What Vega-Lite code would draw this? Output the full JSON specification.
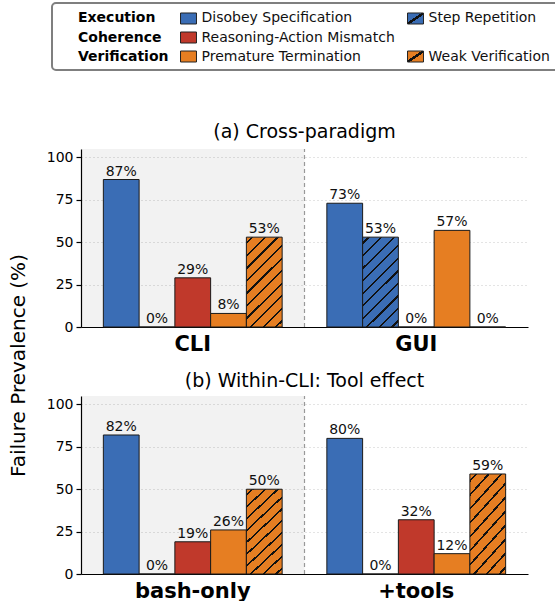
{
  "$schema": "https://vega.github.io/schema/vega-lite/v6.json",
  "padding": {"left": 8, "top": 2, "right": 0, "bottom": 0},
  "config": {
    "font": "DejaVu Sans",
    "view": {"stroke": null},
    "axis": {"labelColor": "#000", "domainColor": "#000", "tickColor": "#000", "labelFont": "DejaVu Sans", "titleFont": "DejaVu Sans"},
    "axisX": {"title": null, "labelAngle": 0, "labelFontSize": 21, "labelFontWeight": "bold", "ticks": false, "labelPadding": 6, "domainWidth": 1.2, "bandPosition": 0.5}
  },
  "datasets": {
    "bars": [
      {"panel": "a", "group": "CLI", "category": "Disobey Specification", "value": 87, "label": "87%"},
      {"panel": "a", "group": "CLI", "category": "Step Repetition", "value": 0, "label": "0%"},
      {"panel": "a", "group": "CLI", "category": "Reasoning-Action Mismatch", "value": 29, "label": "29%"},
      {"panel": "a", "group": "CLI", "category": "Premature Termination", "value": 8, "label": "8%"},
      {"panel": "a", "group": "CLI", "category": "Weak Verification", "value": 53, "label": "53%"},
      {"panel": "a", "group": "GUI", "category": "Disobey Specification", "value": 73, "label": "73%"},
      {"panel": "a", "group": "GUI", "category": "Step Repetition", "value": 53, "label": "53%"},
      {"panel": "a", "group": "GUI", "category": "Reasoning-Action Mismatch", "value": 0, "label": "0%"},
      {"panel": "a", "group": "GUI", "category": "Premature Termination", "value": 57, "label": "57%"},
      {"panel": "a", "group": "GUI", "category": "Weak Verification", "value": 0, "label": "0%"},
      {"panel": "b", "group": "bash-only", "category": "Disobey Specification", "value": 82, "label": "82%"},
      {"panel": "b", "group": "bash-only", "category": "Step Repetition", "value": 0, "label": "0%"},
      {"panel": "b", "group": "bash-only", "category": "Reasoning-Action Mismatch", "value": 19, "label": "19%"},
      {"panel": "b", "group": "bash-only", "category": "Premature Termination", "value": 26, "label": "26%"},
      {"panel": "b", "group": "bash-only", "category": "Weak Verification", "value": 50, "label": "50%"},
      {"panel": "b", "group": "+tools", "category": "Disobey Specification", "value": 80, "label": "80%"},
      {"panel": "b", "group": "+tools", "category": "Step Repetition", "value": 0, "label": "0%"},
      {"panel": "b", "group": "+tools", "category": "Reasoning-Action Mismatch", "value": 32, "label": "32%"},
      {"panel": "b", "group": "+tools", "category": "Premature Termination", "value": 12, "label": "12%"},
      {"panel": "b", "group": "+tools", "category": "Weak Verification", "value": 59, "label": "59%"}
    ],
    "legendItems": [
      {"row": "Execution", "col": 1, "category": "Disobey Specification"},
      {"row": "Execution", "col": 2, "category": "Step Repetition"},
      {"row": "Coherence", "col": 1, "category": "Reasoning-Action Mismatch"},
      {"row": "Verification", "col": 1, "category": "Premature Termination"},
      {"row": "Verification", "col": 2, "category": "Weak Verification"}
    ],
    "legendHeads": [
      {"row": "Execution", "col": 0},
      {"row": "Coherence", "col": 0},
      {"row": "Verification", "col": 0}
    ]
  },
  "spacing": 52,
  "vconcat": [
    {
      "width": 447,
      "height": 67,
      "resolve": {"scale": {"y": "independent"}},
      "layer": [
        {
          "data": {"values": [{"box": "legend"}]},
          "mark": {"type": "rect", "fill": "#fff", "fillOpacity": 0, "stroke": "#7f7f7f", "strokeWidth": 2, "cornerRadius": 4, "clip": false},
          "encoding": {
            "x": {"datum": -1, "type": "quantitative", "scale": {"domain": [-1, 0, 1, 2, 3], "range": [-29, -3, 107.5, 334.5, 480], "nice": false, "zero": false}, "axis": null},
            "x2": {"datum": 3},
            "y": {"datum": 0, "type": "quantitative", "scale": {"domain": [0, 1], "nice": false, "zero": false}, "axis": null},
            "y2": {"datum": 1}
          }
        },
        {
          "encoding": {
            "y": {"field": "row", "type": "nominal", "scale": {"type": "band", "domain": ["Execution", "Coherence", "Verification"], "paddingInner": 0, "paddingOuter": 0.263, "range": [1, 68]}, "axis": null},
            "x": {"field": "col", "type": "quantitative", "axis": null}
          },
          "layer": [
            {
              "data": {"name": "legendHeads"},
              "mark": {"type": "text", "align": "left", "baseline": "middle", "fontWeight": "bold", "fontSize": 14, "color": "#000"},
              "encoding": {"text": {"field": "row"}}
            },
            {
              "data": {"name": "legendItems"},
              "mark": {"type": "point", "shape": "M-1.45,-1H1.45V1H-1.45Z", "size": 121, "filled": true, "opacity": 1, "stroke": "#222", "strokeWidth": 1},
              "encoding": {
                "fill": {
                  "condition": [
                    {"test": "datum.category === 'Step Repetition'", "value": {"gradient": "linear", "x1": 0, "y1": 0, "x2": 1, "y2": 1, "stops": [{"offset": 0, "color": "#3a6db5"}, {"offset": 0.43, "color": "#3a6db5"}, {"offset": 0.43, "color": "#111"}, {"offset": 0.57, "color": "#111"}, {"offset": 0.57, "color": "#3a6db5"}, {"offset": 1, "color": "#3a6db5"}]}},
                    {"test": "datum.category === 'Weak Verification'", "value": {"gradient": "linear", "x1": 0, "y1": 0, "x2": 1, "y2": 1, "stops": [{"offset": 0, "color": "#e67e22"}, {"offset": 0.43, "color": "#e67e22"}, {"offset": 0.43, "color": "#111"}, {"offset": 0.57, "color": "#111"}, {"offset": 0.57, "color": "#e67e22"}, {"offset": 1, "color": "#e67e22"}]}}
                  ],
                  "field": "category", "type": "nominal",
                  "scale": {"domain": ["Disobey Specification", "Step Repetition", "Reasoning-Action Mismatch", "Premature Termination", "Weak Verification"], "range": ["#3a6db5", "#3a6db5", "#c0392b", "#e67e22", "#e67e22"]},
                  "legend": null
                }
              }
            },
            {
              "data": {"name": "legendItems"},
              "mark": {"type": "text", "align": "left", "baseline": "middle", "dx": 13, "fontSize": 14, "color": "#111"},
              "encoding": {"text": {"field": "category"}}
            }
          ]
        }
      ]
    },
    {
      "spacing": 69,
      "bounds": "flush",
      "vconcat": [
        {
          "width": 447,
          "height": 178,
          "title": {"text": "(a) Cross-paradigm", "fontSize": 19, "fontWeight": "normal", "font": "DejaVu Sans", "offset": 6, "color": "#000"},
          "layer": [
            {
              "data": {"name": "bars"},
              "transform": [{"filter": "datum.panel === 'a'"}],
              "mark": {"type": "text", "dy": -4, "baseline": "alphabetic", "fontSize": 14, "color": "#111"},
              "encoding": {
                "x": {"field": "group", "type": "nominal", "scale": {"domain": ["CLI", "GUI"], "paddingInner": 0.2, "paddingOuter": 0.1}, "axis": {"bandPosition": 0.5}},
                "xOffset": {"field": "category", "type": "nominal", "scale": {"domain": ["Disobey Specification", "Step Repetition", "Reasoning-Action Mismatch", "Premature Termination", "Weak Verification"], "paddingInner": 0, "paddingOuter": 0}},
                "y": {"field": "value", "type": "quantitative", "scale": {"domain": [0, 105], "nice": false}, "axis": {"title": "Failure Prevalence (%)", "titleFontSize": 20, "titleLimit": 400, "titleFontWeight": "normal", "titleColor": "#000", "titleX": -57, "titleY": 216, "titleAngle": -90, "titleAlign": "center", "titleBaseline": "alphabetic", "values": [0, 25, 50, 75, 100], "grid": true, "gridDash": [1, 3], "gridColor": "#bbb", "gridWidth": 0.8, "labelFontSize": 14, "tickSize": 5, "tickWidth": 1.2, "domainWidth": 1.2, "labelPadding": 3}},
                "text": {"field": "label"}
              }
            },
            {
              "data": {"values": [{"region": "first"}]},
              "mark": {"type": "rect", "fill": "#000", "fillOpacity": 0.05},
              "encoding": {
                "x": {"datum": "CLI", "type": "nominal", "bandPosition": -0.125},
                "x2": {"datum": "GUI", "bandPosition": -0.125},
                "y": {"datum": 0, "type": "quantitative"},
                "y2": {"datum": 105}
              }
            },
            {
              "data": {"values": [{"region": "divider"}]},
              "mark": {"type": "rule", "color": "#999", "strokeDash": [4, 3], "strokeWidth": 1.2},
              "encoding": {
                "x": {"datum": "GUI", "type": "nominal", "bandPosition": -0.125},
                "y": {"datum": 0, "type": "quantitative"},
                "y2": {"datum": 105}
              }
            },
            {
              "data": {"name": "bars"},
              "transform": [{"filter": "datum.panel === 'a'"}],
              "mark": {"type": "bar", "stroke": "#1a1a1a", "strokeWidth": 1},
              "encoding": {
                "x": {"field": "group", "type": "nominal"},
                "xOffset": {"field": "category", "type": "nominal"},
                "y": {"field": "value", "type": "quantitative"},
                "fill": {
                  "condition": [
                    {"test": "datum.category === 'Step Repetition'", "value": {"gradient": "linear", "x1": 0, "y1": 0, "x2": 0.4774, "y2": 1.2068, "stops": [{"offset": 0, "color": "#3a6db5"}, {"offset": 0.041, "color": "#3a6db5"}, {"offset": 0.041, "color": "#111"}, {"offset": 0.059, "color": "#111"}, {"offset": 0.059, "color": "#3a6db5"}, {"offset": 0.141, "color": "#3a6db5"}, {"offset": 0.141, "color": "#111"}, {"offset": 0.159, "color": "#111"}, {"offset": 0.159, "color": "#3a6db5"}, {"offset": 0.241, "color": "#3a6db5"}, {"offset": 0.241, "color": "#111"}, {"offset": 0.259, "color": "#111"}, {"offset": 0.259, "color": "#3a6db5"}, {"offset": 0.341, "color": "#3a6db5"}, {"offset": 0.341, "color": "#111"}, {"offset": 0.359, "color": "#111"}, {"offset": 0.359, "color": "#3a6db5"}, {"offset": 0.441, "color": "#3a6db5"}, {"offset": 0.441, "color": "#111"}, {"offset": 0.459, "color": "#111"}, {"offset": 0.459, "color": "#3a6db5"}, {"offset": 0.541, "color": "#3a6db5"}, {"offset": 0.541, "color": "#111"}, {"offset": 0.559, "color": "#111"}, {"offset": 0.559, "color": "#3a6db5"}, {"offset": 0.641, "color": "#3a6db5"}, {"offset": 0.641, "color": "#111"}, {"offset": 0.659, "color": "#111"}, {"offset": 0.659, "color": "#3a6db5"}, {"offset": 0.741, "color": "#3a6db5"}, {"offset": 0.741, "color": "#111"}, {"offset": 0.759, "color": "#111"}, {"offset": 0.759, "color": "#3a6db5"}, {"offset": 0.841, "color": "#3a6db5"}, {"offset": 0.841, "color": "#111"}, {"offset": 0.859, "color": "#111"}, {"offset": 0.859, "color": "#3a6db5"}, {"offset": 0.941, "color": "#3a6db5"}, {"offset": 0.941, "color": "#111"}, {"offset": 0.959, "color": "#111"}, {"offset": 0.959, "color": "#3a6db5"}, {"offset": 1, "color": "#3a6db5"}]}},
                    {"test": "datum.category === 'Weak Verification'", "value": {"gradient": "linear", "x1": 0, "y1": 0, "x2": 0.4774, "y2": 1.2068, "stops": [{"offset": 0, "color": "#e67e22"}, {"offset": 0.041, "color": "#e67e22"}, {"offset": 0.041, "color": "#111"}, {"offset": 0.059, "color": "#111"}, {"offset": 0.059, "color": "#e67e22"}, {"offset": 0.141, "color": "#e67e22"}, {"offset": 0.141, "color": "#111"}, {"offset": 0.159, "color": "#111"}, {"offset": 0.159, "color": "#e67e22"}, {"offset": 0.241, "color": "#e67e22"}, {"offset": 0.241, "color": "#111"}, {"offset": 0.259, "color": "#111"}, {"offset": 0.259, "color": "#e67e22"}, {"offset": 0.341, "color": "#e67e22"}, {"offset": 0.341, "color": "#111"}, {"offset": 0.359, "color": "#111"}, {"offset": 0.359, "color": "#e67e22"}, {"offset": 0.441, "color": "#e67e22"}, {"offset": 0.441, "color": "#111"}, {"offset": 0.459, "color": "#111"}, {"offset": 0.459, "color": "#e67e22"}, {"offset": 0.541, "color": "#e67e22"}, {"offset": 0.541, "color": "#111"}, {"offset": 0.559, "color": "#111"}, {"offset": 0.559, "color": "#e67e22"}, {"offset": 0.641, "color": "#e67e22"}, {"offset": 0.641, "color": "#111"}, {"offset": 0.659, "color": "#111"}, {"offset": 0.659, "color": "#e67e22"}, {"offset": 0.741, "color": "#e67e22"}, {"offset": 0.741, "color": "#111"}, {"offset": 0.759, "color": "#111"}, {"offset": 0.759, "color": "#e67e22"}, {"offset": 0.841, "color": "#e67e22"}, {"offset": 0.841, "color": "#111"}, {"offset": 0.859, "color": "#111"}, {"offset": 0.859, "color": "#e67e22"}, {"offset": 0.941, "color": "#e67e22"}, {"offset": 0.941, "color": "#111"}, {"offset": 0.959, "color": "#111"}, {"offset": 0.959, "color": "#e67e22"}, {"offset": 1, "color": "#e67e22"}]}}
                  ],
                  "field": "category", "type": "nominal",
                  "scale": {"domain": ["Disobey Specification", "Step Repetition", "Reasoning-Action Mismatch", "Premature Termination", "Weak Verification"], "range": ["#3a6db5", "#3a6db5", "#c0392b", "#e67e22", "#e67e22"]},
                  "legend": null
                }
              }
            }
          ]
        },
        {
          "width": 447,
          "height": 178,
          "title": {"text": "(b) Within-CLI: Tool effect", "fontSize": 19, "fontWeight": "normal", "font": "DejaVu Sans", "offset": 4, "color": "#000"},
          "layer": [
            {
              "data": {"name": "bars"},
              "transform": [{"filter": "datum.panel === 'b'"}],
              "mark": {"type": "text", "dy": -4, "baseline": "alphabetic", "fontSize": 14, "color": "#111"},
              "encoding": {
                "x": {"field": "group", "type": "nominal", "scale": {"domain": ["bash-only", "+tools"], "paddingInner": 0.2, "paddingOuter": 0.1}, "axis": {"bandPosition": 0.5}},
                "xOffset": {"field": "category", "type": "nominal", "scale": {"domain": ["Disobey Specification", "Step Repetition", "Reasoning-Action Mismatch", "Premature Termination", "Weak Verification"], "paddingInner": 0, "paddingOuter": 0}},
                "y": {"field": "value", "type": "quantitative", "scale": {"domain": [0, 105], "nice": false}, "axis": {"title": null, "values": [0, 25, 50, 75, 100], "grid": true, "gridDash": [1, 3], "gridColor": "#bbb", "gridWidth": 0.8, "labelFontSize": 14, "tickSize": 5, "tickWidth": 1.2, "domainWidth": 1.2, "labelPadding": 3}},
                "text": {"field": "label"}
              }
            },
            {
              "data": {"values": [{"region": "first"}]},
              "mark": {"type": "rect", "fill": "#000", "fillOpacity": 0.05},
              "encoding": {
                "x": {"datum": "bash-only", "type": "nominal", "bandPosition": -0.125},
                "x2": {"datum": "+tools", "bandPosition": -0.125},
                "y": {"datum": 0, "type": "quantitative"},
                "y2": {"datum": 105}
              }
            },
            {
              "data": {"values": [{"region": "divider"}]},
              "mark": {"type": "rule", "color": "#999", "strokeDash": [4, 3], "strokeWidth": 1.2},
              "encoding": {
                "x": {"datum": "+tools", "type": "nominal", "bandPosition": -0.125},
                "y": {"datum": 0, "type": "quantitative"},
                "y2": {"datum": 105}
              }
            },
            {
              "data": {"name": "bars"},
              "transform": [{"filter": "datum.panel === 'b'"}],
              "mark": {"type": "bar", "stroke": "#1a1a1a", "strokeWidth": 1},
              "encoding": {
                "x": {"field": "group", "type": "nominal"},
                "xOffset": {"field": "category", "type": "nominal"},
                "y": {"field": "value", "type": "quantitative"},
                "fill": {
                  "condition": [
                    {"test": "datum.category === 'Weak Verification'", "value": {"gradient": "linear", "x1": 0, "y1": 0, "x2": 0.4774, "y2": 1.2068, "stops": [{"offset": 0, "color": "#e67e22"}, {"offset": 0.041, "color": "#e67e22"}, {"offset": 0.041, "color": "#111"}, {"offset": 0.059, "color": "#111"}, {"offset": 0.059, "color": "#e67e22"}, {"offset": 0.141, "color": "#e67e22"}, {"offset": 0.141, "color": "#111"}, {"offset": 0.159, "color": "#111"}, {"offset": 0.159, "color": "#e67e22"}, {"offset": 0.241, "color": "#e67e22"}, {"offset": 0.241, "color": "#111"}, {"offset": 0.259, "color": "#111"}, {"offset": 0.259, "color": "#e67e22"}, {"offset": 0.341, "color": "#e67e22"}, {"offset": 0.341, "color": "#111"}, {"offset": 0.359, "color": "#111"}, {"offset": 0.359, "color": "#e67e22"}, {"offset": 0.441, "color": "#e67e22"}, {"offset": 0.441, "color": "#111"}, {"offset": 0.459, "color": "#111"}, {"offset": 0.459, "color": "#e67e22"}, {"offset": 0.541, "color": "#e67e22"}, {"offset": 0.541, "color": "#111"}, {"offset": 0.559, "color": "#111"}, {"offset": 0.559, "color": "#e67e22"}, {"offset": 0.641, "color": "#e67e22"}, {"offset": 0.641, "color": "#111"}, {"offset": 0.659, "color": "#111"}, {"offset": 0.659, "color": "#e67e22"}, {"offset": 0.741, "color": "#e67e22"}, {"offset": 0.741, "color": "#111"}, {"offset": 0.759, "color": "#111"}, {"offset": 0.759, "color": "#e67e22"}, {"offset": 0.841, "color": "#e67e22"}, {"offset": 0.841, "color": "#111"}, {"offset": 0.859, "color": "#111"}, {"offset": 0.859, "color": "#e67e22"}, {"offset": 0.941, "color": "#e67e22"}, {"offset": 0.941, "color": "#111"}, {"offset": 0.959, "color": "#111"}, {"offset": 0.959, "color": "#e67e22"}, {"offset": 1, "color": "#e67e22"}]}}
                  ],
                  "field": "category", "type": "nominal",
                  "scale": {"domain": ["Disobey Specification", "Step Repetition", "Reasoning-Action Mismatch", "Premature Termination", "Weak Verification"], "range": ["#3a6db5", "#3a6db5", "#c0392b", "#e67e22", "#e67e22"]},
                  "legend": null
                }
              }
            }
          ]
        }
      ]
    }
  ]
}
